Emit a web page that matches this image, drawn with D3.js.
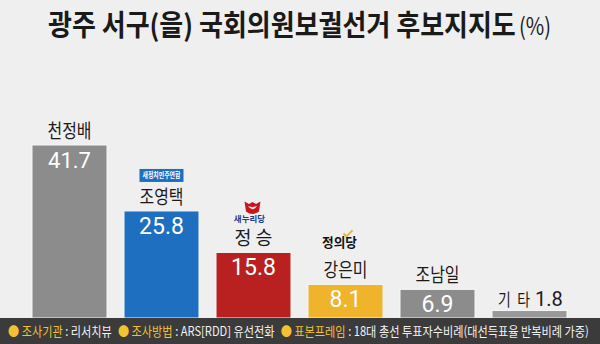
<!DOCTYPE html>
<html>
<head>
<meta charset="utf-8">
<script src="https://cdn.jsdelivr.net/npm/d3@7/dist/d3.min.js"></script>
<style>
  body { margin: 0; background: #efefef; }
  text { font-family: "Noto Sans CJK KR", "Noto Sans", sans-serif; }
  .num { font-family: Roboto, "Liberation Sans", sans-serif; }
</style>
</head>
<body>
<div id="viz"></div>
<script>
// data
const candidates = ["천정배", "조영택", "정 승", "강은미", "조남일", "기 타"];
const support = [41.7, 25.8, 15.8, 8.1, 6.9, 1.8];
const barColors = ["#8c8c8c", "#1e6fc0", "#b8211f", "#f0b42c", "#8c8c8c", "#999999"];
const titleText = "광주 서구(을) 국회의원보궐선거 후보지지도";
const unitText = "(%)";
const footerItems = [
  ["조사기관", "리서치뷰"],
  ["조사방법", "ARS[RDD] 유선전화"],
  ["표본프레임", "18대 총선 투표자수비례(대선득표율 반복비례 가중)"]
];

const W = 600, H = 344;
const data = candidates.map((c, i) => ({name: c, value: support[i]}));

const svg = d3.select("#viz").append("svg")
    .attr("width", W).attr("height", H);

svg.append("rect").attr("width", W).attr("height", H).attr("fill", "#efefef");

// squeeze a text horizontally to a given width, keeping its anchor point
function squeeze(t, width) {
    t.each(function() {
        const el = d3.select(this);
        const w = this.getComputedTextLength();
        const ax = +el.attr("x");
        const k = Math.min(1, width / w);
        el.attr("transform", `translate(${ax},0) scale(${k},1) translate(${-ax},0)`);
    });
    return t;
}

// scales
const x = d3.scaleBand()
    .domain(candidates)
    .range([23.5, 575.5])
    .paddingInner(0.185)
    .paddingOuter(0.0925);

const y = d3.scaleLinear()
    .domain([0, 41.7])
    .range([318, 145]);

const color = d3.scaleOrdinal().domain(candidates).range(barColors);

// title
svg.append("text")
    .attr("x", 48).attr("y", 36)
    .attr("font-size", 29).attr("font-weight", "bold")
    .attr("fill", "#1a1a1a")
    .text(titleText)
    .call(squeeze, 468);
svg.append("text")
    .attr("x", 519).attr("y", 35)
    .attr("font-size", 24)
    .attr("fill", "#1a1a1a")
    .text(unitText)
    .call(squeeze, 32);

// bars
svg.selectAll(".bar")
    .data(data)
    .enter().append("rect")
    .attr("class", "bar")
    .attr("x", d => x(d.name))
    .attr("y", d => y(d.value))
    .attr("width", x.bandwidth())
    .attr("height", d => y(0) - y(d.value))
    .attr("fill", d => color(d.name))
    .attr("stroke", "#f6f6f6")
    .attr("stroke-width", 1);

const cx = d => x(d.name) + x.bandwidth() / 2;
const main = data.filter(d => d.name !== "기 타");
const etc = data.find(d => d.name === "기 타");

// values inside bars
svg.selectAll(".val")
    .data(main)
    .enter().append("text")
    .attr("class", "num")
    .attr("x", cx)
    .attr("y", d => y(d.value) + 23)
    .attr("text-anchor", "middle")
    .attr("font-size", (d, i) => i === 0 ? 22 : 23)
    .attr("fill", "#fff")
    .text(d => d.value);

// names above bars
svg.selectAll(".name")
    .data(main)
    .enter().append("text")
    .attr("x", cx)
    .attr("y", d => y(d.value) - 7)
    .attr("text-anchor", "middle")
    .attr("font-size", 19)
    .attr("fill", "#1a1a1a")
    .text(d => d.name)
    .each(function(d) { squeeze(d3.select(this), d.name === "정 승" ? 38 : 44); });

// 기타: label + value side by side
svg.append("text")
    .attr("x", x(etc.name) + 6).attr("y", y(etc.value) - 5)
    .attr("font-size", 17).attr("fill", "#1a1a1a")
    .attr("word-spacing", 4)
    .text(etc.name)
    .call(squeeze, 32);
svg.append("text")
    .attr("class", "num")
    .attr("x", x(etc.name) + 43).attr("y", y(etc.value) - 5)
    .attr("font-size", 20).attr("fill", "#1a1a1a")
    .text(etc.value);

// party marks
const byName = n => data.find(d => d.name === n);

// 새정치민주연합 badge
const b = byName("조영택");
svg.append("rect")
    .attr("x", cx(b) - 22).attr("y", y(b.value) - 42)
    .attr("width", 44).attr("height", 13)
    .attr("fill", "#1e6fc0");
svg.append("text")
    .attr("x", cx(b)).attr("y", y(b.value) - 32.5)
    .attr("text-anchor", "middle")
    .attr("font-size", 7.5).attr("font-weight", "bold").attr("fill", "#fff")
    .text("새정치민주연합")
    .call(squeeze, 38);

// 새누리당 logo
const s = byName("정 승");
const sx = cx(s), sy = y(s.value);
svg.append("path")
    .attr("transform", `translate(${sx - 1},${sy - 51})`)
    .attr("d", "M-8,0 L-3.5,2.5 L0,0.5 L3.5,2.5 L8,0 L6.5,10 Q0,15 -6.5,10 Z M-4.5,4.5 Q0,11 4.5,4.5 Q0,6.5 -4.5,4.5 Z")
    .attr("fill", "#c8161d")
    .attr("fill-rule", "evenodd");
svg.append("text")
    .attr("x", sx - 4).attr("y", sy - 30)
    .attr("text-anchor", "middle")
    .attr("font-size", 8.5).attr("font-weight", "bold").attr("fill", "#1d3b85")
    .text("새누리당")
    .call(squeeze, 35);

// 정의당 logo
const j = byName("강은미");
const jx = cx(j), jy = y(j.value);
svg.append("path")
    .attr("transform", `translate(${jx},${jy - 53})`)
    .attr("d", "M-2,2 L1,5 L7,-1")
    .attr("fill", "none")
    .attr("stroke", "#f0b42c")
    .attr("stroke-width", 2);
svg.append("text")
    .attr("x", jx - 6).attr("y", jy - 37)
    .attr("text-anchor", "middle")
    .attr("font-size", 13).attr("font-weight", "bold").attr("fill", "#111")
    .text("정의당")
    .call(squeeze, 35);

// footer
svg.append("rect")
    .attr("x", 0).attr("y", 318)
    .attr("width", W).attr("height", H - 318)
    .attr("fill", "#3b3b3b");

const footG = svg.append("g");
let fx = 8;
footerItems.forEach((f, i) => {
    const parts = [["● " + f[0], "#f2c230"], [" : " + f[1], "#f2f2f2"]];
    parts.forEach(p => {
        const t = footG.append("text")
            .attr("x", fx).attr("y", 336)
            .attr("font-size", 13)
            .attr("fill", p[1])
            .attr("xml:space", "preserve")
            .text(p[0]);
        fx += t.node().getComputedTextLength();
    });
    fx += 7;
});
const natural = fx - 7 - 8;
const kf = 581 / natural;
footG.attr("transform", `translate(8,0) scale(${kf},1) translate(-8,0)`);
</script>
</body>
</html>
